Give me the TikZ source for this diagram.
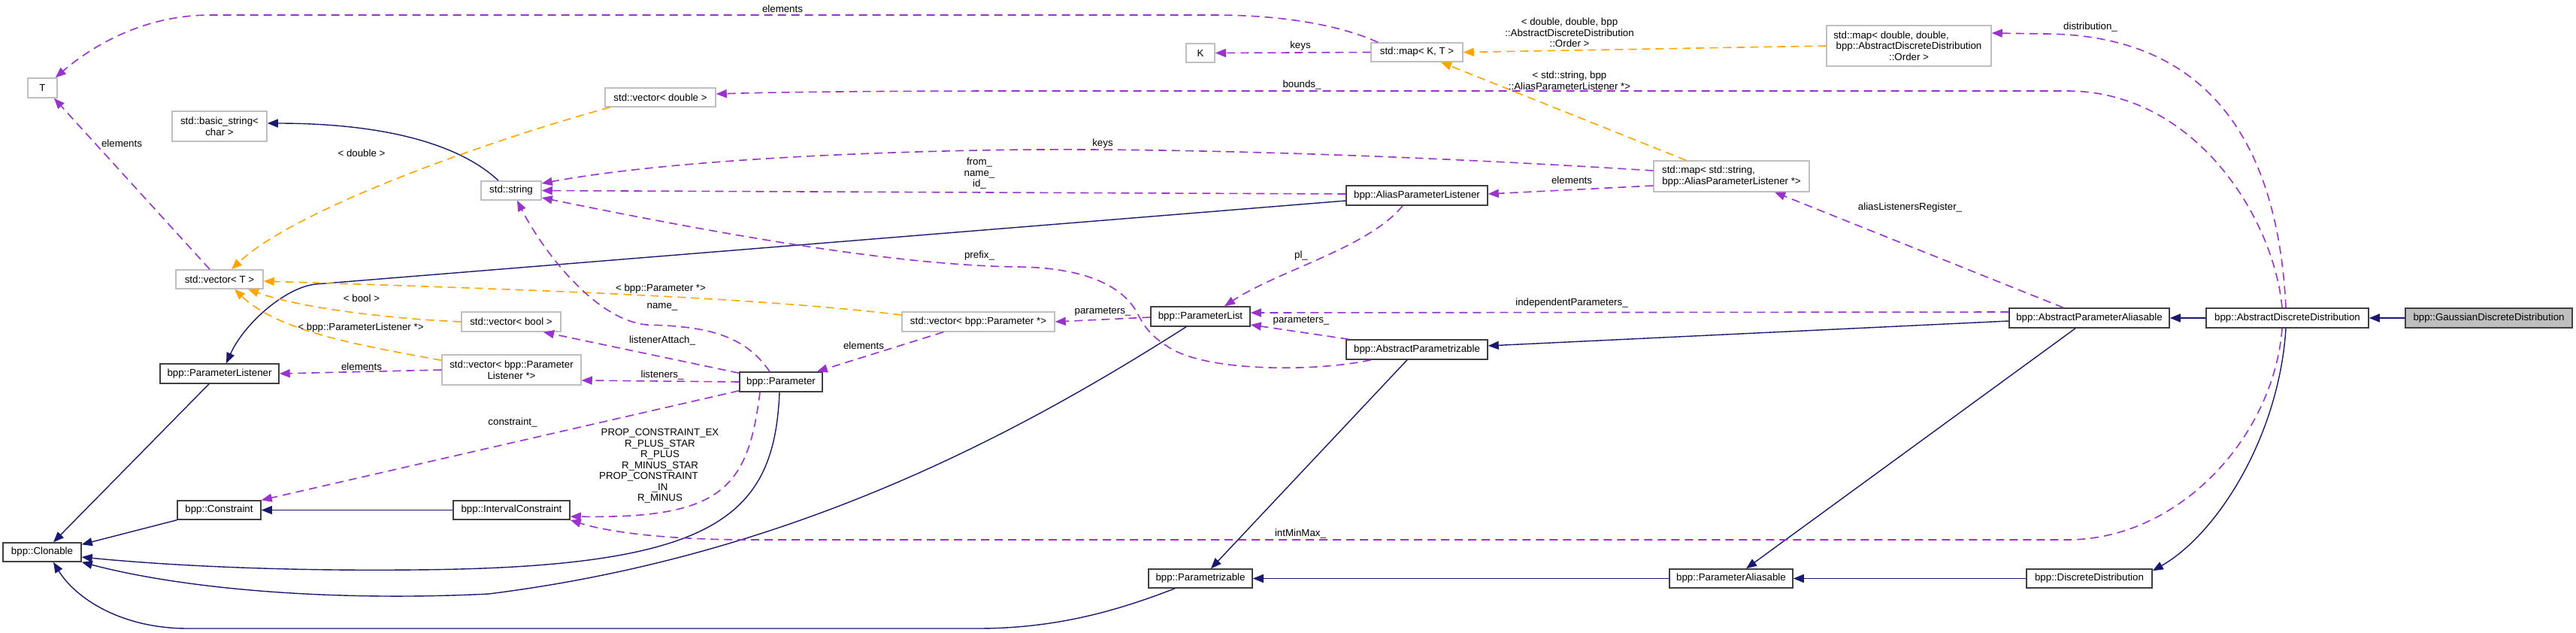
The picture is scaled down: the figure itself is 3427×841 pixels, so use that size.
\documentclass[tikz,border=0pt]{standalone}
\usepackage{fontspec}
\setmainfont{Liberation Sans}
\usetikzlibrary{arrows.meta,calc}
\definecolor{navyblue}{HTML}{191970}
\definecolor{dpurple}{HTML}{9A32CD}
\definecolor{dorange}{HTML}{FFA500}
\definecolor{boxgrey}{HTML}{BFBFBF}
\definecolor{boxdark}{HTML}{404040}
\newcommand\dfont{\fontsize{13.3}{14.5}\selectfont}
\begin{document}
\begin{tikzpicture}[x=1pt,y=-1pt,
 box/.style={draw=boxdark,line width=1.5pt,rectangle,inner sep=0pt,font=\dfont,align=center,fill=white},
 gbox/.style={box,draw=boxgrey},
 lbl/.style={font=\dfont,align=center,inner sep=0pt},
 inh/.style={navyblue,line width=1.4pt,-{Triangle[length=14pt,width=11pt]}},
 dep/.style={dpurple,line width=1.6pt,dash pattern=on 11pt off 7pt,-{Triangle[length=14pt,width=11pt]}},
 tmpl/.style={dorange,line width=1.6pt,dash pattern=on 11pt off 7pt,-{Triangle[length=14pt,width=11pt]}}]
\fill[white] (0,0) rectangle (3427,841);
\useasboundingbox (0,0) rectangle (3427,841);

% ---------- nodes ----------
\node[gbox,minimum width=39pt,minimum height=26pt] (T) at (56.5,117) {T};
\node[gbox,minimum width=126pt,minimum height=40pt] (bs) at (292,168) {std::basic\_string<\\char >};
\node[gbox,minimum width=116pt,minimum height=25pt] (vT) at (292,371.5) {std::vector< T >};
\node[gbox,minimum width=80pt,minimum height=25pt] (str) at (680,253.5) {std::string};
\node[gbox,minimum width=147pt,minimum height=25pt] (vd) at (878.5,129.5) {std::vector< double >};
\node[box,minimum width=158pt,minimum height=26pt] (pl) at (292,497) {bpp::ParameterListener};
\node[gbox,minimum width=185pt,minimum height=40pt] (vpl) at (680.5,492) {std::vector< bpp::Parameter\\Listener *>};
\node[gbox,minimum width=132pt,minimum height=26pt] (vb) at (680,428) {std::vector< bool >};
\node[box,minimum width=111pt,minimum height=25pt] (con) at (291.5,678.5) {bpp::Constraint};
\node[box,minimum width=155pt,minimum height=25pt] (ic) at (680.5,678.5) {bpp::IntervalConstraint};
\node[box,minimum width=104pt,minimum height=25pt] (clo) at (56,734.5) {bpp::Clonable};
\node[box,minimum width=110pt,minimum height=26pt] (par) at (1039,508) {bpp::Parameter};
\node[gbox,minimum width=203pt,minimum height=26pt] (vp) at (1301.5,428) {std::vector< bpp::Parameter *>};
\node[box,minimum width=132pt,minimum height=26pt] (plist) at (1597,421) {bpp::ParameterList};
\node[gbox,minimum width=38pt,minimum height=25pt] (K) at (1597,70.5) {K};
\node[gbox,minimum width=122pt,minimum height=25pt] (mapKT) at (1885,69.5) {std::map< K, T >};
\node[box,minimum width=188pt,minimum height=26pt] (apl) at (1885,260) {bpp::AliasParameterListener};
\node[box,minimum width=188pt,minimum height=26pt] (apz) at (1885,465) {bpp::AbstractParametrizable};
\node[box,minimum width=138pt,minimum height=25pt] (pz) at (1597,769.5) {bpp::Parametrizable};
\node[gbox,minimum width=219pt,minimum height=54pt] (mapDD) at (2539.5,61) {std::map< double, double,\hspace{47pt}\mbox{}\\bpp::AbstractDiscreteDistribution\\::Order >};
\node[gbox,minimum width=207pt,minimum height=41pt] (mapSA) at (2303.5,234.5) {std::map< std::string,\hspace{61pt}\mbox{}\\ bpp::AliasParameterListener *>};
\node[box,minimum width=213pt,minimum height=26pt] (apa) at (2779.5,423) {bpp::AbstractParameterAliasable};
\node[box,minimum width=164pt,minimum height=25pt] (pa) at (2303,769.5) {bpp::ParameterAliasable};
\node[box,minimum width=216pt,minimum height=26pt] (add) at (3043,423) {bpp::AbstractDiscreteDistribution};
\node[box,fill=boxgrey,minimum width=222pt,minimum height=26pt] (gdd) at (3311,423) {bpp::GaussianDiscreteDistribution};
\node[box,minimum width=167pt,minimum height=25pt] (dd) at (2779.5,769.5) {bpp::DiscreteDistribution};

% ---------- connectors ----------
% elements: vector<T> -> T
\draw[dep] ($(vT.north)+(-13,0)$) -- ($(T.south)+(15.5,0)$);
% elements: map<K,T> -> T
\draw[dep] ($(mapKT.north)+(-52,0)$) .. controls (1780,32) and (1700,20) .. (1616,20) -- (280,20) .. controls (180,20) and (110,72) .. ($(T.north east)+(-3,0)$);
% keys: map<K,T> -> K
\draw[dep] (mapKT.west) -- (K.east);
% template map<double,...> -> map<K,T>
\draw[tmpl] (mapDD.west) -- (mapKT.east);
% template map<string,...> -> map<K,T>
\draw[tmpl] ($(mapSA.north)+(-60.5,0)$) -- ($(mapKT.south)+(32,0)$);
% keys: map<string> -> string
\draw[dep] ($(mapSA.west)+(0,-7.5)$) .. controls (1900,208) and (1550,195) .. (1300,200) .. controls (1050,205) and (850,220) .. ($(str.east)+(0,-9.5)$);
% elements: map<string> -> AliasParameterListener
\draw[dep] ($(mapSA.west)+(0,12.5)$) -- ($(apl.east)+(0,-2)$);
% from_ name_ id_
\draw[dep] ($(apl.west)+(0,-2)$) -- (str.east);
% AliasParameterListener -> ParameterListener
\draw[inh] ($(apl.west)+(0,7)$) -- (420,378) .. controls (380,382) and (325,430) .. ($(pl.north)+(9,0)$);
% std::string -> basic_string
\draw[inh] ($(str.north)+(-17,0)$) .. controls (615,195) and (520,164) .. ($(bs.east)+(0,-4)$);
% < double >
\draw[tmpl] ($(vd.south west)+(7,0)$) .. controls (640,190) and (390,280) .. ($(vT.north)+(16,0)$);
% < bool >
\draw[tmpl] (vb.west) .. controls (520,424) and (400,410) .. ($(vT.south)+(38,0)$);
% < bpp::ParameterListener *>
\draw[tmpl] ($(vpl.north west)+(0,8)$) .. controls (470,458) and (370,440) .. ($(vT.south)+(20,0)$);
% < bpp::Parameter *>
\draw[tmpl] ($(vp.west)+(0,-9)$) .. controls (1000,395) and (700,385) .. ($(vT.east)+(0,2.5)$);
% elements: vector<ParameterListener*> -> ParameterListener
\draw[dep] (vpl.west) -- (pl.east);
% ParameterListener -> Clonable
\draw[inh] ($(pl.south)+(-14,0)$) -- ($(clo.north)+(15,0)$);
% Constraint -> Clonable
\draw[inh] (con.south west) -- ($(clo.north east)+(0,3)$);
% IntervalConstraint -> Constraint
\draw[inh] (ic.west) -- (con.east);
% Parameter -> Clonable
\draw[inh] ($(par.south)+(-2,0)$) .. controls (1030,690) and (950,755) .. (550,758) .. controls (350,760) and (200,750) .. ($(clo.east)+(0,6.5)$);
% ParameterList -> Clonable
\draw[inh] ($(plist.south)+(-19,0)$) .. controls (1350,580) and (1050,740) .. (650,790) .. controls (450,800) and (250,785) .. (clo.south east);
% Parametrizable -> Clonable
\draw[inh] ($(pz.south)+(-34,0)$) .. controls (1480,815) and (1400,836) .. (1300,836) -- (250,836) .. controls (160,836) and (100,795) .. ($(clo.south)+(15,0)$);
% name_
\draw[dep] ($(par.north)+(-15,0)$) .. controls (990,445) and (940,434) .. (860,432) .. controls (790,425) and (720,330) .. ($(str.south)+(8,0)$);
% listenerAttach_
\draw[dep] ($(par.north west)+(0,2)$) -- ($(vb.south)+(43,0)$);
% listeners_
\draw[dep] (par.west) -- ($(vpl.east)+(0,14)$);
% constraint_
\draw[dep] ($(par.south west)+(0,-2)$) -- (con.north east);
% PROP_CONSTRAINT...
\draw[dep] ($(par.south)+(-28,0)$) .. controls (995,650) and (960,690) .. ($(ic.east)+(0,8.5)$);
% elements: vector<Parameter*> -> Parameter
\draw[dep] ($(vp.south)+(-46.5,0)$) -- ($(par.north east)+(-8,0)$);
% parameters_: ParameterList -> vector<Parameter*>
\draw[dep] ($(plist.west)+(0,1)$) -- (vp.east);
% pl_
\draw[dep] ($(apl.south)+(-19,0)$) .. controls (1820,330) and (1700,360) .. ($(plist.north)+(32,0)$);
% parameters_: AbstractParametrizable -> ParameterList
\draw[dep] ($(apz.north west)+(4,0)$) -- ($(plist.east)+(0,11)$);
% prefix_
\draw[dep] ($(apz.south)+(-61,0)$) .. controls (1750,495) and (1600,495) .. (1552,460) .. controls (1520,440) and (1517,420) .. (1507,407) .. controls (1480,370) and (1420,355) .. (1350,355) .. controls (1200,352) and (1000,320) .. ($(str.east)+(0,9.5)$);
% independentParameters_
\draw[dep] ($(apa.west)+(0,-8)$) -- ($(plist.east)+(0,-5)$);
% AbstractParameterAliasable -> AbstractParametrizable
\draw[inh] ($(apa.west)+(0,4)$) -- ($(apz.east)+(0,-5)$);
% aliasListenersRegister_
\draw[dep] ($(apa.north)+(-34.5,0)$) -- ($(mapSA.south)+(57.5,0)$);
% AbstractParameterAliasable -> ParameterAliasable
\draw[inh] ($(apa.south)+(-18.5,0)$) -- ($(pa.north)+(20,0)$);
% AbstractDiscreteDistribution -> AbstractParameterAliasable
\draw[inh] (add.west) -- (apa.east);
% Gaussian -> AbstractDiscreteDistribution
\draw[inh] (gdd.west) -- (add.east);
% distribution_
\draw[dep] ($(add.north)+(-2,0)$) .. controls (3030,180) and (2930,46) .. (2720,45) -- ($(mapDD.east)+(0,-17)$);
% bounds_
\draw[dep] ($(add.north)+(-7,0)$) .. controls (3025,290) and (2920,121) .. (2750,121) -- (1350,121) .. controls (1200,121) and (1050,122) .. ($(vd.east)+(0,-4.5)$);
% intMinMax_
\draw[dep] ($(add.south)+(-7,0)$) .. controls (3025,580) and (2900,718) .. (2750,718) -- (1000,718) .. controls (870,718) and (800,705) .. (ic.south east);
% AbstractDiscreteDistribution -> DiscreteDistribution
\draw[inh] ($(add.south)+(-2,0)$) .. controls (3032,580) and (2950,710) .. ($(dd.north east)+(0,3)$);
% DiscreteDistribution -> ParameterAliasable
\draw[inh] (dd.west) -- (pa.east);
% ParameterAliasable -> Parametrizable
\draw[inh] (pa.west) -- (pz.east);
% AbstractParametrizable -> Parametrizable
\draw[inh] ($(apz.south)+(-13,0)$) -- ($(pz.north)+(14,0)$);

% ---------- labels ----------
\node[lbl] (lb1) at (162,191) {elements};
\node[lbl] (lb2) at (1041,12) {elements};
\node[lbl] (lb3) at (1730,61) {keys};
\node[lbl] (lb4) at (2088,43.5) {< double, double, bpp\\::AbstractDiscreteDistribution\\::Order >};
\node[lbl] (lb5) at (2088,107) {< std::string, bpp\\::AliasParameterListener *>};
\node[lbl] (lb6) at (1467,191) {keys};
\node[lbl] (lb7) at (2091,240) {elements};
\node[lbl] (lb8) at (1303,231) {from\_\\name\_\\id\_};
\node[lbl] (lb11) at (481,204) {< double >};
\node[lbl] (lb12) at (481,397) {< bool >};
\node[lbl] (lb13) at (480,436) {< bpp::ParameterListener *>};
\node[lbl] (lb14) at (879,384) {< bpp::Parameter *>};
\node[lbl] (lb15) at (481,488) {elements};
\node[lbl] (lb22) at (881,408) {name\_};
\node[lbl] (lb23) at (881,453) {listenerAttach\_};
\node[lbl] (lb24) at (881,499) {listeners\_};
\node[lbl] (lb25) at (682,562) {constraint\_};
\node[lbl] (lb26) at (878,620) {PROP\_CONSTRAINT\_EX\\R\_PLUS\_STAR\\R\_PLUS\\R\_MINUS\_STAR\\PROP\_CONSTRAINT\hspace{30pt}\mbox{}\\\_IN\\R\_MINUS};
\node[lbl] (lb27) at (1149,460) {elements};
\node[lbl] (lb28) at (1467,415) {parameters\_};
\node[lbl] (lb29) at (1731,340) {pl\_};
\node[lbl] (lb30) at (1731,427) {parameters\_};
\node[lbl] (lb31) at (1303,340) {prefix\_};
\node[lbl] (lb32) at (2091,403) {independentParameters\_};
\node[lbl] (lb34) at (2541,276) {aliasListenersRegister\_};
\node[lbl] (lb38) at (2781,36) {distribution\_};
\node[lbl] (lb39) at (1732,113) {bounds\_};
\node[lbl] (lb40) at (1730,710) {intMinMax\_};
\end{tikzpicture}
\end{document}
